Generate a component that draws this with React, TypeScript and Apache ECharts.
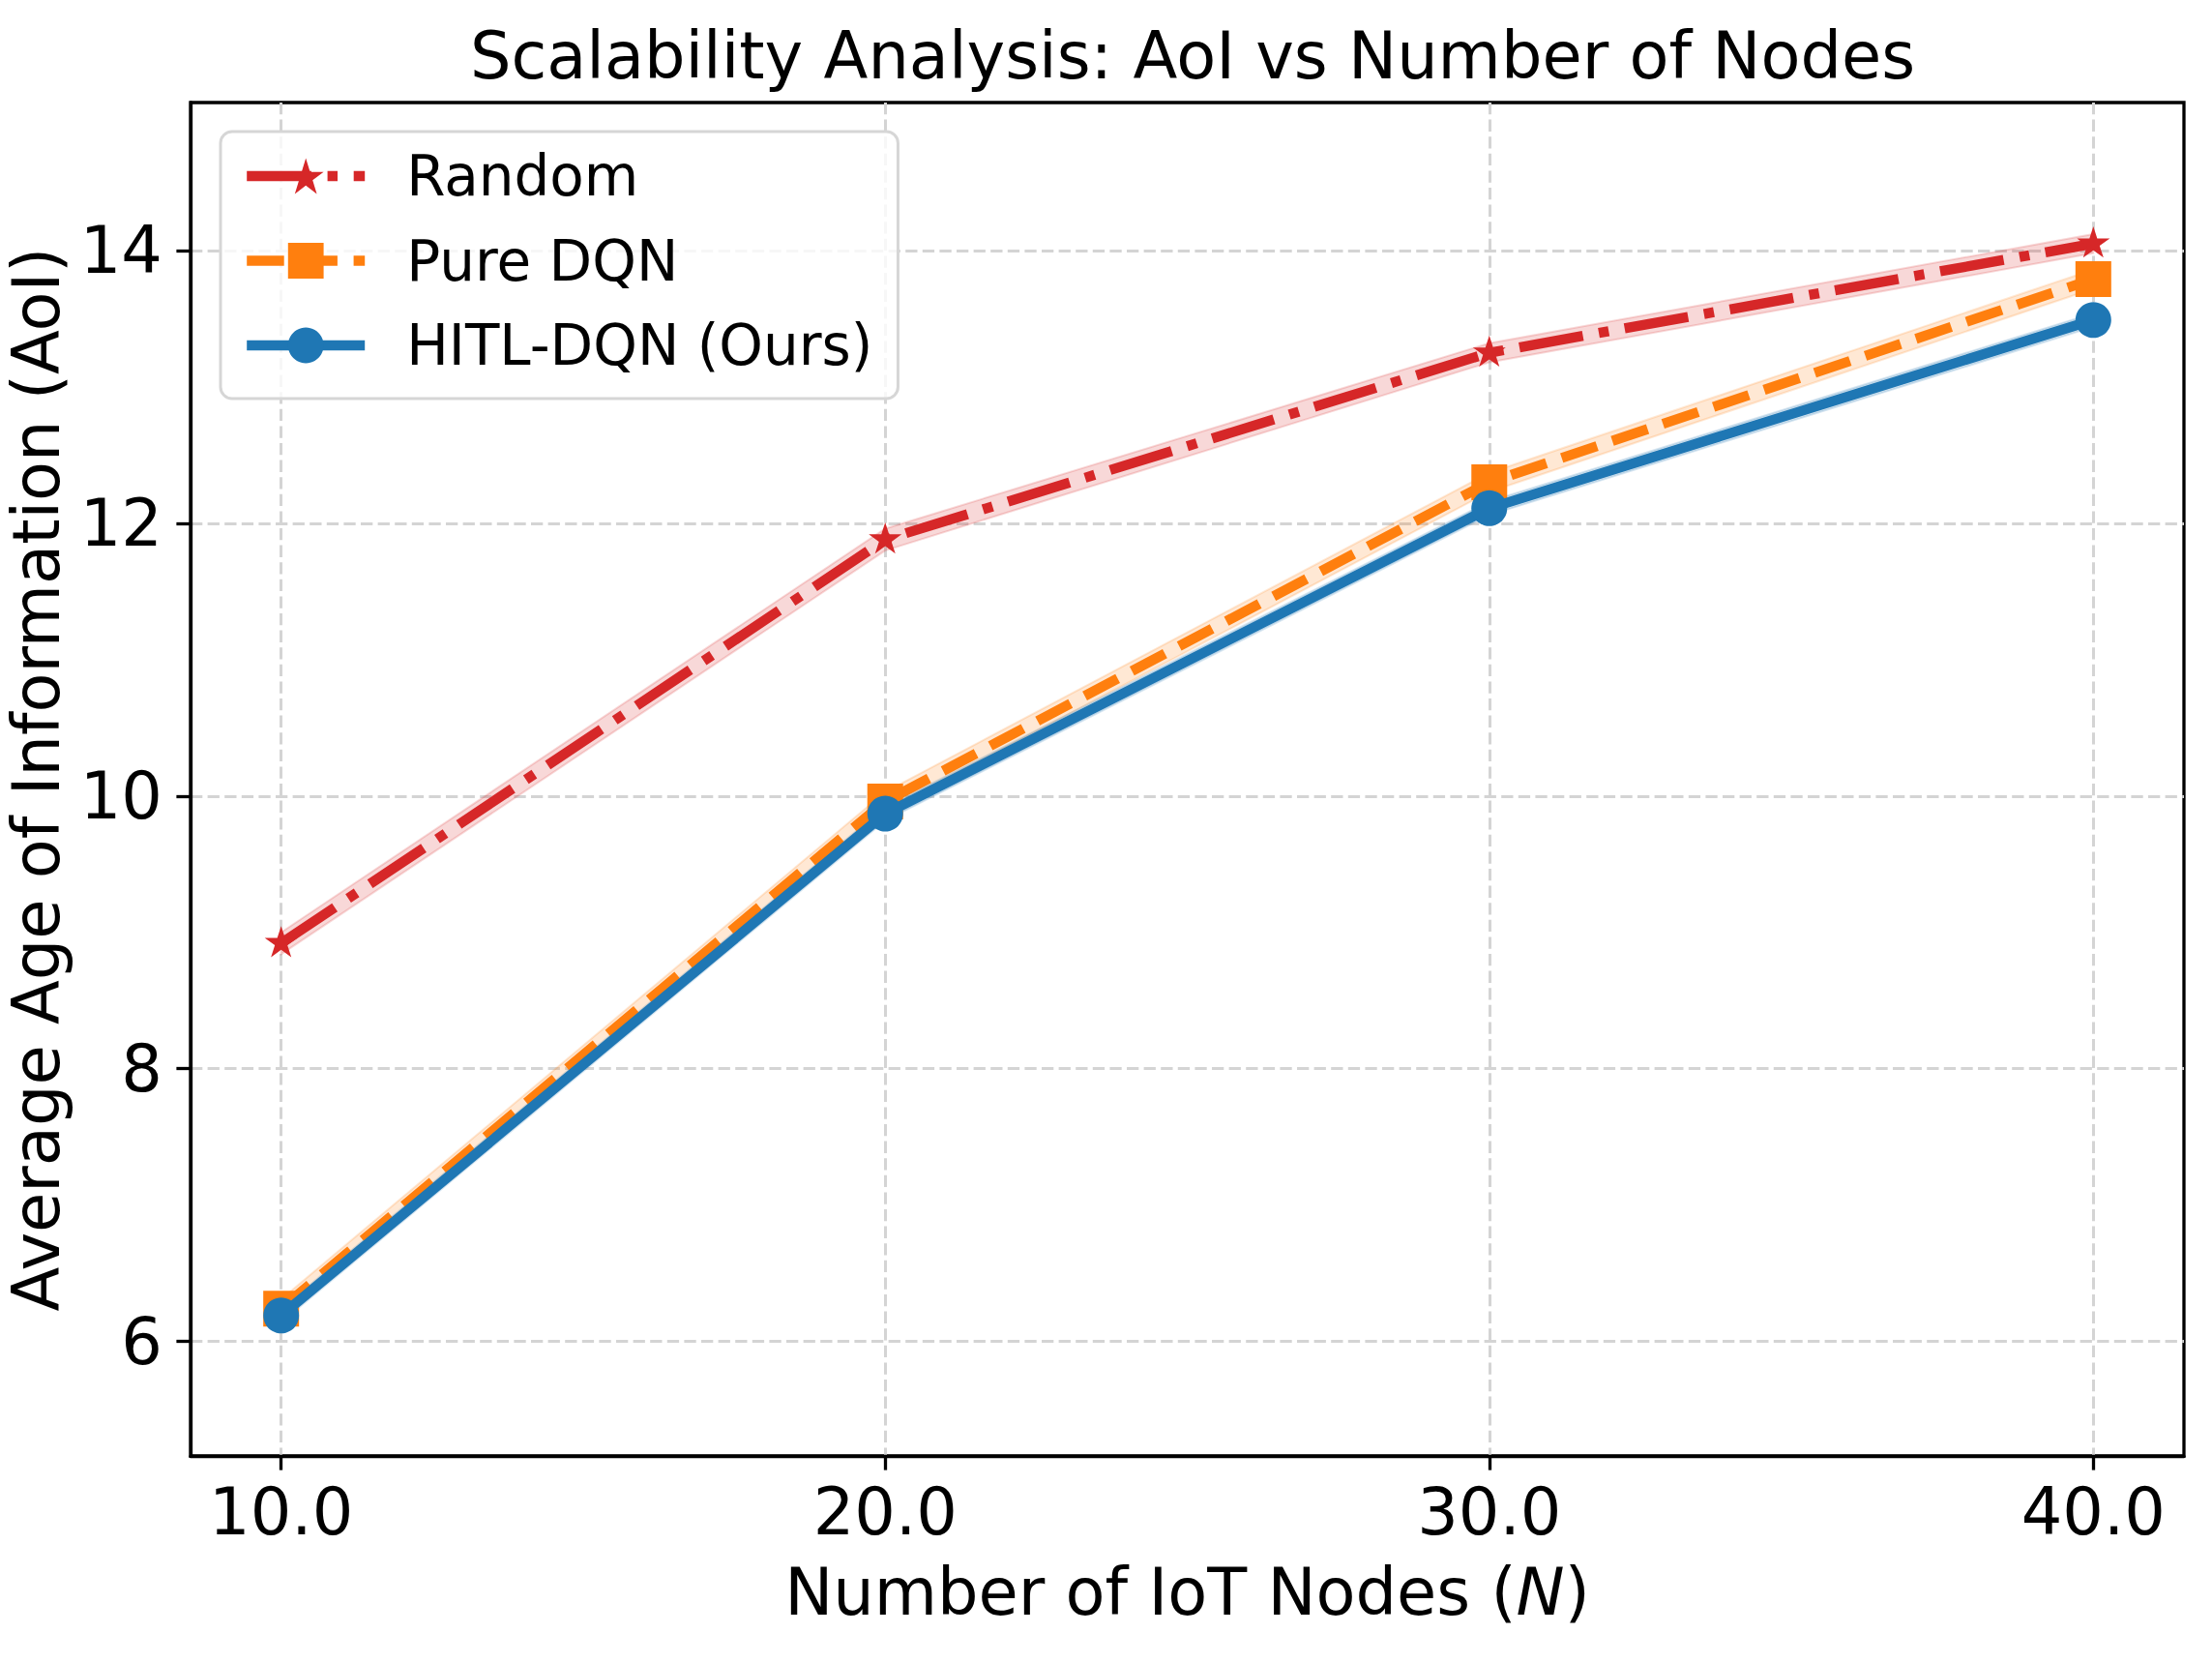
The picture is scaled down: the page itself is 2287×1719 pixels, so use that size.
import React, { useEffect, useRef } from 'react';
import * as echarts from 'echarts';

const nodes = [10, 20, 30, 40];
const randomAoI = [8.92, 11.88, 13.25, 14.05];
const pureDqnAoI = [6.24, 9.96, 12.3, 13.79];
const hitlAoI = [6.19, 9.87, 12.11, 13.49];
const randomStd = [0.08, 0.08, 0.07, 0.07];
const pureDqnStd = [0.07, 0.07, 0.07, 0.07];
const hitlStd = [0.05, 0.05, 0.05, 0.05];
const xTicks = [10, 20, 30, 40];
const yTicks = [6, 8, 10, 12, 14];
const seriesNames = ['Random', 'Pure DQN', 'HITL-DQN (Ours)'];

const FONT = 'DejaVu Sans';
const STAR =
  'path://M0,-1 L0.2245,-0.309 L0.951,-0.309 L0.363,0.118 L0.588,0.809 L0,0.382 L-0.588,0.809 L-0.363,0.118 L-0.951,-0.309 L-0.2245,-0.309 Z';

function band(name: string, ys: number[], sd: number[], fill: string, stroke: string) {
  return {
    type: 'custom',
    name: name + ' band',
    silent: true,
    z: 1,
    data: nodes.map((x, i) => [x, ys[i] - sd[i], ys[i] + sd[i]]),
    encode: { x: 0, y: [1, 2] },
    renderItem: (params: any, api: any) => {
      if (params.dataIndex !== 0) return { type: 'group', children: [] };
      const upper = nodes.map((x, i) => api.coord([x, ys[i] + sd[i]]));
      const lower = nodes.map((x, i) => api.coord([x, ys[i] - sd[i]])).reverse();
      return {
        type: 'polygon',
        shape: { points: upper.concat(lower) },
        style: { fill, stroke, lineWidth: 2 },
      };
    },
  };
}

export default function App() {
  const ref = useRef<HTMLDivElement>(null);
  useEffect(() => {
    if (!ref.current) return;
    const chart = echarts.init(ref.current, null, { renderer: 'svg' });
    const lw = 10.4;
    chart.setOption({
      animation: false,
      backgroundColor: '#ffffff',
      title: {
        text: 'Scalability Analysis: AoI vs Number of Nodes',
        left: 1228,
        textAlign: 'center',
        top: 19,
        textStyle: { fontFamily: FONT, fontSize: 67, fontWeight: 'normal', color: '#000' },
      },
      legend: {
        data: seriesNames,
        orient: 'vertical',
        left: 228,
        top: 136,
        itemWidth: 122,
        itemHeight: 46,
        itemGap: 29.5,
        padding: [17, 26, 26, 22],
        backgroundColor: 'rgba(255,255,255,0.8)',
        borderColor: '#d6d6d6',
        borderWidth: 3,
        borderRadius: 12,
        lineStyle: { width: lw },
        textStyle: { fontFamily: FONT, fontSize: 58, color: '#000', padding: [0, 0, 0, 38] },
      },
      grid: {
        left: 197,
        right: 29,
        top: 106,
        bottom: 214,
        show: true,
        borderColor: '#000',
        borderWidth: 3.3,
        backgroundColor: 'transparent',
        containLabel: false,
        outerBoundsMode: 'none',
      },
      xAxis: {
        type: 'value',
        min: 8.5,
        max: 41.5,
        name: '{a|Number of IoT Nodes (}{i|N}{a|)}',
        nameLocation: 'middle',
        nameGap: 107,
        nameTextStyle: {
          rich: {
            a: { fontFamily: FONT, fontSize: 67, color: '#000' },
            i: { fontFamily: FONT, fontSize: 67, color: '#000', fontStyle: 'italic' },
          },
        },
        axisLine: { show: true, lineStyle: { color: '#000', width: 3.3 } },
        axisTick: { show: true, length: 14.6, inside: false, customValues: xTicks, lineStyle: { color: '#000', width: 3.3 } },
        axisLabel: {
          customValues: xTicks,
          margin: 24,
          fontFamily: FONT,
          fontSize: 67,
          color: '#000',
          formatter: (v: number) => v.toFixed(1),
        },
        splitLine: { show: true, lineStyle: { color: '#d4d4d4', width: 3, type: [12.3, 5.3] } },
      },
      yAxis: {
        type: 'value',
        min: 5.16,
        max: 15.085,
        name: 'Average Age of Information (AoI)',
        nameLocation: 'middle',
        nameGap: 124,
        nameTextStyle: { fontFamily: FONT, fontSize: 67, color: '#000' },
        axisLine: { show: true, lineStyle: { color: '#000', width: 3.3 } },
        axisTick: { show: true, length: 14.6, inside: false, customValues: yTicks, lineStyle: { color: '#000', width: 3.3 } },
        axisLabel: {
          customValues: yTicks,
          margin: 29,
          fontFamily: FONT,
          fontSize: 67,
          color: '#000',
        },
        splitLine: { show: true, lineStyle: { color: '#d4d4d4', width: 3, type: [12.3, 5.3] } },
      },
      series: [
        band('Random', randomAoI, randomStd, 'rgba(214,39,40,0.18)', 'rgba(214,39,40,0.18)'),
        band('Pure DQN', pureDqnAoI, pureDqnStd, 'rgba(255,127,14,0.18)', 'rgba(255,127,14,0.18)'),
        band('HITL-DQN (Ours)', hitlAoI, hitlStd, 'rgba(31,119,180,0.18)', 'rgba(31,119,180,0.18)'),
        {
          type: 'line',
          name: 'Random',
          z: 3,
          data: nodes.map((x, i) => [x, randomAoI[i]]),
          symbol: STAR,
          symbolSize: [34, 32.3],
          symbolOffset: [0, -1.7],
          showAllSymbol: true,
          lineStyle: { color: '#d62728', width: lw, type: [66.7, 16.7, 10.4, 16.7], join: 'round', cap: 'butt' },
          itemStyle: { color: '#d62728' },
        },
        {
          type: 'line',
          name: 'Pure DQN',
          z: 4,
          data: nodes.map((x, i) => [x, pureDqnAoI[i]]),
          symbol: 'rect',
          symbolSize: 37,
          showAllSymbol: true,
          lineStyle: { color: '#ff7f0e', width: lw, type: [38.5, 16.7], join: 'round', cap: 'butt' },
          itemStyle: { color: '#ff7f0e' },
        },
        {
          type: 'line',
          name: 'HITL-DQN (Ours)',
          z: 5,
          data: nodes.map((x, i) => [x, hitlAoI[i]]),
          symbol: 'circle',
          symbolSize: 37,
          showAllSymbol: true,
          lineStyle: { color: '#1f77b4', width: lw, type: 'solid', join: 'round', cap: 'butt' },
          itemStyle: { color: '#1f77b4' },
        },
      ],
    });
    return () => chart.dispose();
  }, []);
  return (
    <div
      ref={ref}
      style={{ position: 'absolute', left: 0, top: 0, width: 2287, height: 1719 }}
    />
  );
}
